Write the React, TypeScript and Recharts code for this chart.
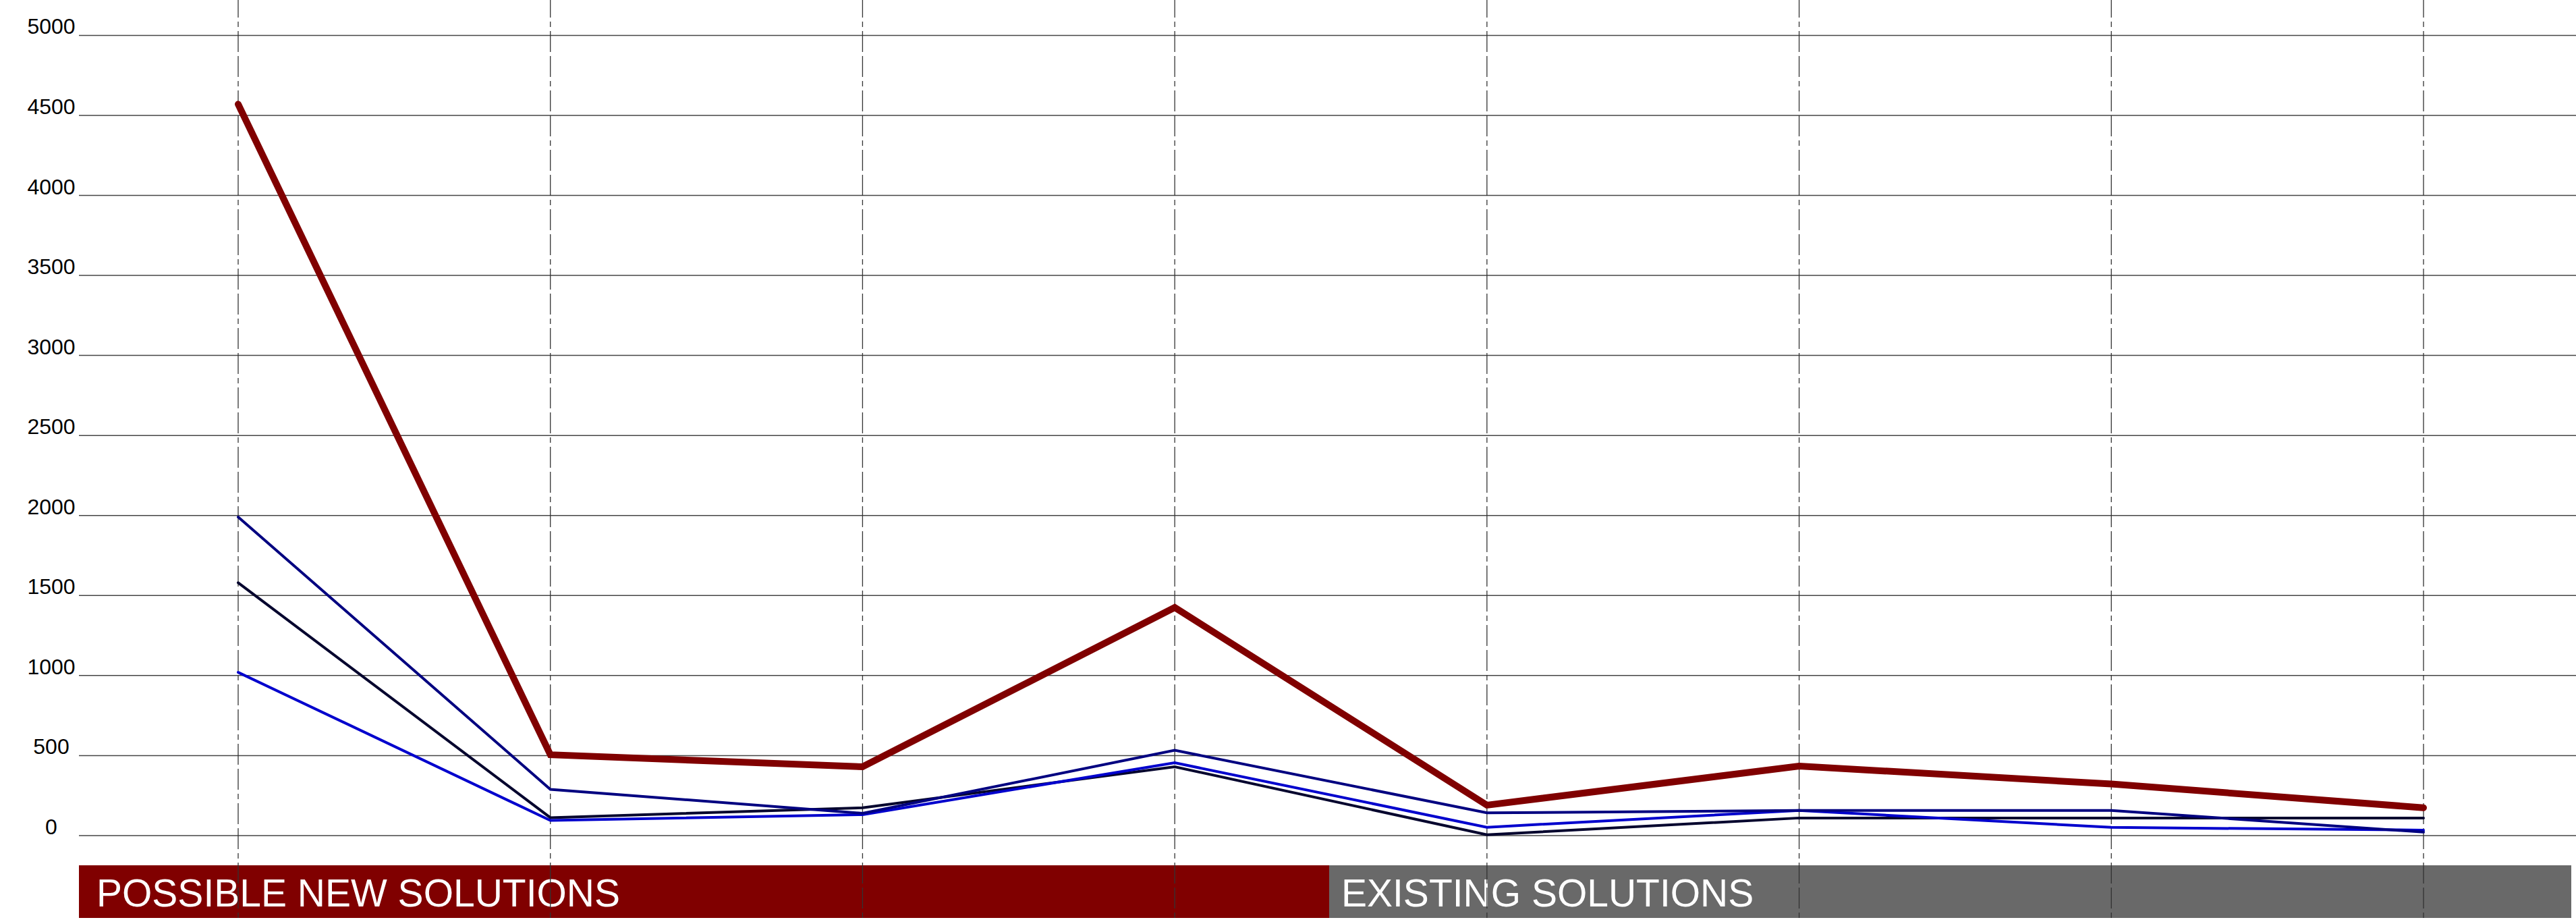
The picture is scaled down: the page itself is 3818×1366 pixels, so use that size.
import React from 'react';
import { CartesianGrid, Line, LineChart, XAxis, YAxis } from 'recharts';

// categories have no visible labels in the original, so they are just indexes
const categories = ['1', '2', '3', '4', '5', '6', '7', '8'];

const totalValues = [4570, 505, 430, 1425, 190, 434, 322, 174];
const navyValues = [1990, 289, 139, 533, 142, 157, 157, 22];
const darkValues = [1580, 112, 174, 430, 5, 110, 110, 110];
const blueValues = [1020, 95, 131, 455, 52, 157, 51, 34];

const yTicks = [0, 500, 1000, 1500, 2000, 2500, 3000, 3500, 4000, 4500, 5000];
const bandLabels = ['POSSIBLE NEW SOLUTIONS', 'EXISTING SOLUTIONS'];

const data = categories.map((cat, i) => ({
  cat,
  total: totalValues[i],
  navy: navyValues[i],
  dark: darkValues[i],
  blue: blueValues[i],
}));

const W = 3818;
const H = 1366;
const FONT = '"Liberation Sans", Arial, Helvetica, sans-serif';

function YTick(props: any) {
  const { y, payload } = props;
  return (
    <text x={76} y={y - 2} textAnchor="middle" fontSize={32} fill="#000" fontFamily={FONT}>
      {payload.value}
    </text>
  );
}

const bandStyle = (left: number, width: number, color: string): React.CSSProperties => ({
  position: 'absolute',
  left,
  top: 1282,
  width,
  height: 78,
  background: color,
  color: '#fff',
  fontSize: 57,
  lineHeight: '78px',
  boxSizing: 'border-box',
  whiteSpace: 'nowrap',
});

export default function App() {
  return (
    <div
      style={{
        position: 'absolute',
        left: 0,
        top: 0,
        width: W,
        height: H,
        background: '#fff',
        fontFamily: FONT,
        overflow: 'hidden',
      }}
    >
      <div style={{ ...bandStyle(117, 1853, '#800000'), paddingLeft: 26, paddingTop: 2 }}>
        {bandLabels[0]}
      </div>
      <div style={{ ...bandStyle(1970, 1841, '#696969'), paddingLeft: 18, paddingTop: 2 }}>
        {bandLabels[1]}
      </div>
      <div style={{ position: 'absolute', left: 0, top: 0 }}>
        <LineChart width={W} height={H} data={data} margin={{ top: 0, right: 0, bottom: 0, left: 0 }}>
          <CartesianGrid horizontal vertical={false} syncWithTicks stroke="#444" strokeWidth={1.5} />
          <CartesianGrid
            horizontal={false}
            vertical
            syncWithTicks
            stroke="#333"
            strokeWidth={1.3}
            strokeDasharray="31 6 31 6 8 6"
            strokeDashoffset={42}
          />
          <XAxis dataKey="cat" hide padding={{ left: 236, right: 226 }} />
          <YAxis
            width={117}
            domain={[-540, 5221]}
            ticks={yTicks}
            allowDataOverflow
            axisLine={false}
            tickLine={false}
            tick={YTick}
          />
          <Line
            dataKey="dark"
            stroke="#05052e"
            strokeWidth={4}
            dot={false}
            strokeLinecap="round"
            isAnimationActive={false}
          />
          <Line
            dataKey="blue"
            stroke="#0000cd"
            strokeWidth={4}
            dot={false}
            strokeLinecap="round"
            isAnimationActive={false}
          />
          <Line
            dataKey="navy"
            stroke="#000080"
            strokeWidth={4}
            dot={false}
            strokeLinecap="round"
            isAnimationActive={false}
          />
          <Line
            dataKey="total"
            stroke="#800000"
            strokeWidth={10}
            dot={false}
            strokeLinecap="round"
            isAnimationActive={false}
          />
        </LineChart>
      </div>
    </div>
  );
}
